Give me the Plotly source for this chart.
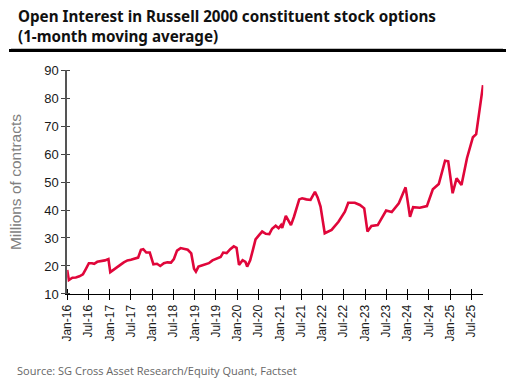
import plotly.graph_objects as go

dates = [
    "2016-01-01", "2016-01-15", "2016-02-15", "2016-03-15", "2016-04-15", "2016-05-15",
    "2016-06-10", "2016-07-05", "2016-08-01", "2016-08-20", "2016-09-15", "2016-10-15",
    "2016-11-20", "2016-12-20", "2017-01-05", "2017-02-01", "2017-03-01", "2017-04-01",
    "2017-05-01", "2017-06-01", "2017-07-01", "2017-08-01", "2017-09-01", "2017-09-25",
    "2017-10-15", "2017-11-10", "2017-12-10", "2018-01-10", "2018-02-10", "2018-03-10",
    "2018-04-10", "2018-05-10", "2018-06-10", "2018-07-05", "2018-08-01", "2018-09-01",
    "2018-10-01", "2018-11-01", "2018-12-01", "2018-12-25", "2019-01-10", "2019-02-01",
    "2019-03-01", "2019-04-01", "2019-05-01", "2019-06-01", "2019-07-01", "2019-08-10",
    "2019-09-01", "2019-10-01", "2019-11-01", "2019-12-01", "2019-12-25", "2020-01-15",
    "2020-02-15", "2020-03-10", "2020-03-25", "2020-04-20", "2020-05-15", "2020-06-05",
    "2020-07-05", "2020-08-01", "2020-09-01", "2020-10-01", "2020-10-25", "2020-11-25",
    "2020-12-20", "2021-01-10", "2021-01-20", "2021-02-20", "2021-04-05", "2021-05-01",
    "2021-06-15", "2021-07-10", "2021-08-15", "2021-09-20", "2021-10-28", "2021-11-20",
    "2021-12-15", "2022-01-20", "2022-03-20", "2022-05-18", "2022-07-12", "2022-08-10",
    "2022-10-05", "2022-11-18", "2022-12-25", "2023-01-22", "2023-02-25", "2023-04-20",
    "2023-07-01", "2023-08-18", "2023-10-18", "2023-12-15", "2024-01-22", "2024-02-18",
    "2024-04-15", "2024-06-15", "2024-08-05", "2024-09-25", "2024-11-18", "2024-12-15",
    "2025-01-22", "2025-02-25", "2025-04-08", "2025-05-25", "2025-07-15", "2025-08-12",
    "2025-10-10",
]
values = [
    18.6, 15.0, 15.8, 15.9, 16.3, 17.0,
    19.0, 21.0, 21.0, 20.8, 21.5, 21.7,
    22.0, 22.5, 17.8, 18.6, 19.6, 20.4,
    21.3, 22.0, 22.2, 22.6, 23.0, 25.8,
    26.0, 24.8, 24.8, 20.6, 20.8, 20.0,
    21.0, 21.3, 21.2, 22.5, 25.5, 26.4,
    26.2, 25.8, 24.5, 19.0, 18.0, 19.8,
    20.2, 20.5, 21.0, 22.0, 22.5, 23.2,
    24.8, 24.6, 26.0, 27.0, 26.5, 20.4,
    22.1, 21.5, 19.8, 22.0, 26.0, 29.5,
    31.0, 32.3, 31.5, 31.4, 33.3, 34.4,
    33.5, 34.6, 33.6, 37.9, 34.6, 37.6,
    43.8, 44.2, 43.8, 43.6, 46.5, 44.5,
    41.2, 31.7, 32.9, 35.8, 39.4, 42.6,
    42.6, 41.8, 40.6, 32.3, 34.3, 34.6,
    39.8, 39.3, 42.4, 48.1, 37.6, 41.0,
    40.8, 41.4, 47.4, 49.3, 57.6, 57.4,
    46.0, 51.3, 48.9, 58.5, 66.0, 67.1,
    84.6,
]

tick_dates = [f"{y}-{m:02d}-01" for y in range(2016, 2026) for m in (1, 7)]
tick_labels = [("Jan-" if d[5:7] == "01" else "Jul-") + d[2:4] for d in tick_dates]
y_ticks = [10, 20, 30, 40, 50, 60, 70, 80, 90]

title_lines = ["Open Interest in Russell 2000 constituent stock options",
               "(1-month moving average)"]
source_text = "Source: SG Cross Asset Research/Equity Quant, Factset"
y_title = "Millions of contracts"

fig = go.Figure()
fig.add_trace(go.Scatter(
    x=dates, y=values, mode="lines",
    line=dict(color="#E0063A", width=2.6),
    hoverinfo="skip", showlegend=False,
))

# paper spans x 4..503 and y 50..294 px; the plot sits inside it via axis domains
fig.update_layout(
    width=508, height=385,
    margin=dict(l=4, r=5, t=50, b=91),
    paper_bgcolor="white", plot_bgcolor="white",
    font=dict(family="Liberation Sans, Arial, sans-serif", color="#1a1a1a", size=12),
    showlegend=False,
)

fig.update_xaxes(
    domain=[0.1142, 0.9599],
    range=["2016-01-01", "2025-10-12"],
    tickmode="array", tickvals=tick_dates, ticktext=tick_labels,
    tickangle=-90, ticks="outside", ticklen=5, tickwidth=1, tickcolor="#000",
    minor=dict(tickmode="array", tickvals=tick_dates, ticks="inside", ticklen=5,
               tickwidth=1, tickcolor="#000", showgrid=False),
    showline=True, linecolor="#000", linewidth=1.2,
    showgrid=False, zeroline=False,
    tickfont=dict(size=12, color="#1a1a1a"),
)
fig.update_yaxes(
    domain=[0, 0.918],
    range=[10, 90],
    tickmode="array", tickvals=y_ticks,
    ticks="outside", ticklen=4, tickwidth=1, tickcolor="#444",
    minor=dict(tickmode="array", tickvals=y_ticks, ticks="inside", ticklen=3,
               tickwidth=1, tickcolor="#444", showgrid=False),
    showline=True, linecolor="#555", linewidth=1.5,
    showgrid=False, zeroline=False,
    tickfont=dict(size=13, color="#1a1a1a"),
    title=dict(text=y_title, font=dict(size=15.5, color="#808080"), standoff=19),
)

fig.add_annotation(
    text="<br>".join("<b>" + t + "</b>" for t in title_lines),
    xref="paper", yref="paper", x=0.011, y=1.19, xanchor="left", yanchor="top",
    showarrow=False, align="left",
    font=dict(family="Noto Sans, sans-serif", size=15.2, color="#111"),
)
# rule under the title: a line shape plus a zero-height bordered box as a fallback
fig.add_shape(type="line", xref="paper", yref="paper",
              x0=0, x1=1, y0=1, y1=1, layer="above",
              line=dict(color="#000", width=2.5))
fig.add_annotation(
    text=" ", xref="paper", yref="paper", x=0.5, y=1, xanchor="center", yanchor="middle",
    showarrow=False, width=495, height=1, borderpad=0, borderwidth=1.2,
    bordercolor="#000", bgcolor="#000", font=dict(size=1),
)
fig.add_annotation(
    text=source_text, xref="paper", yref="paper", x=0.0085, y=-0.2746,
    xanchor="left", yanchor="top", showarrow=False, align="left",
    font=dict(family="Open Sans, sans-serif", size=11, color="#666"),
)

fig.write_html("out.html", config={"displayModeBar": False})

# remove the default page margin so the 508x385 figure fills the window exactly
with open("out.html", encoding="utf-8") as f:
    page = f.read()
page = page.replace("<head>", "<head><style>html,body{margin:0;padding:0;}</style>", 1)
with open("out.html", "w", encoding="utf-8") as f:
    f.write(page)
